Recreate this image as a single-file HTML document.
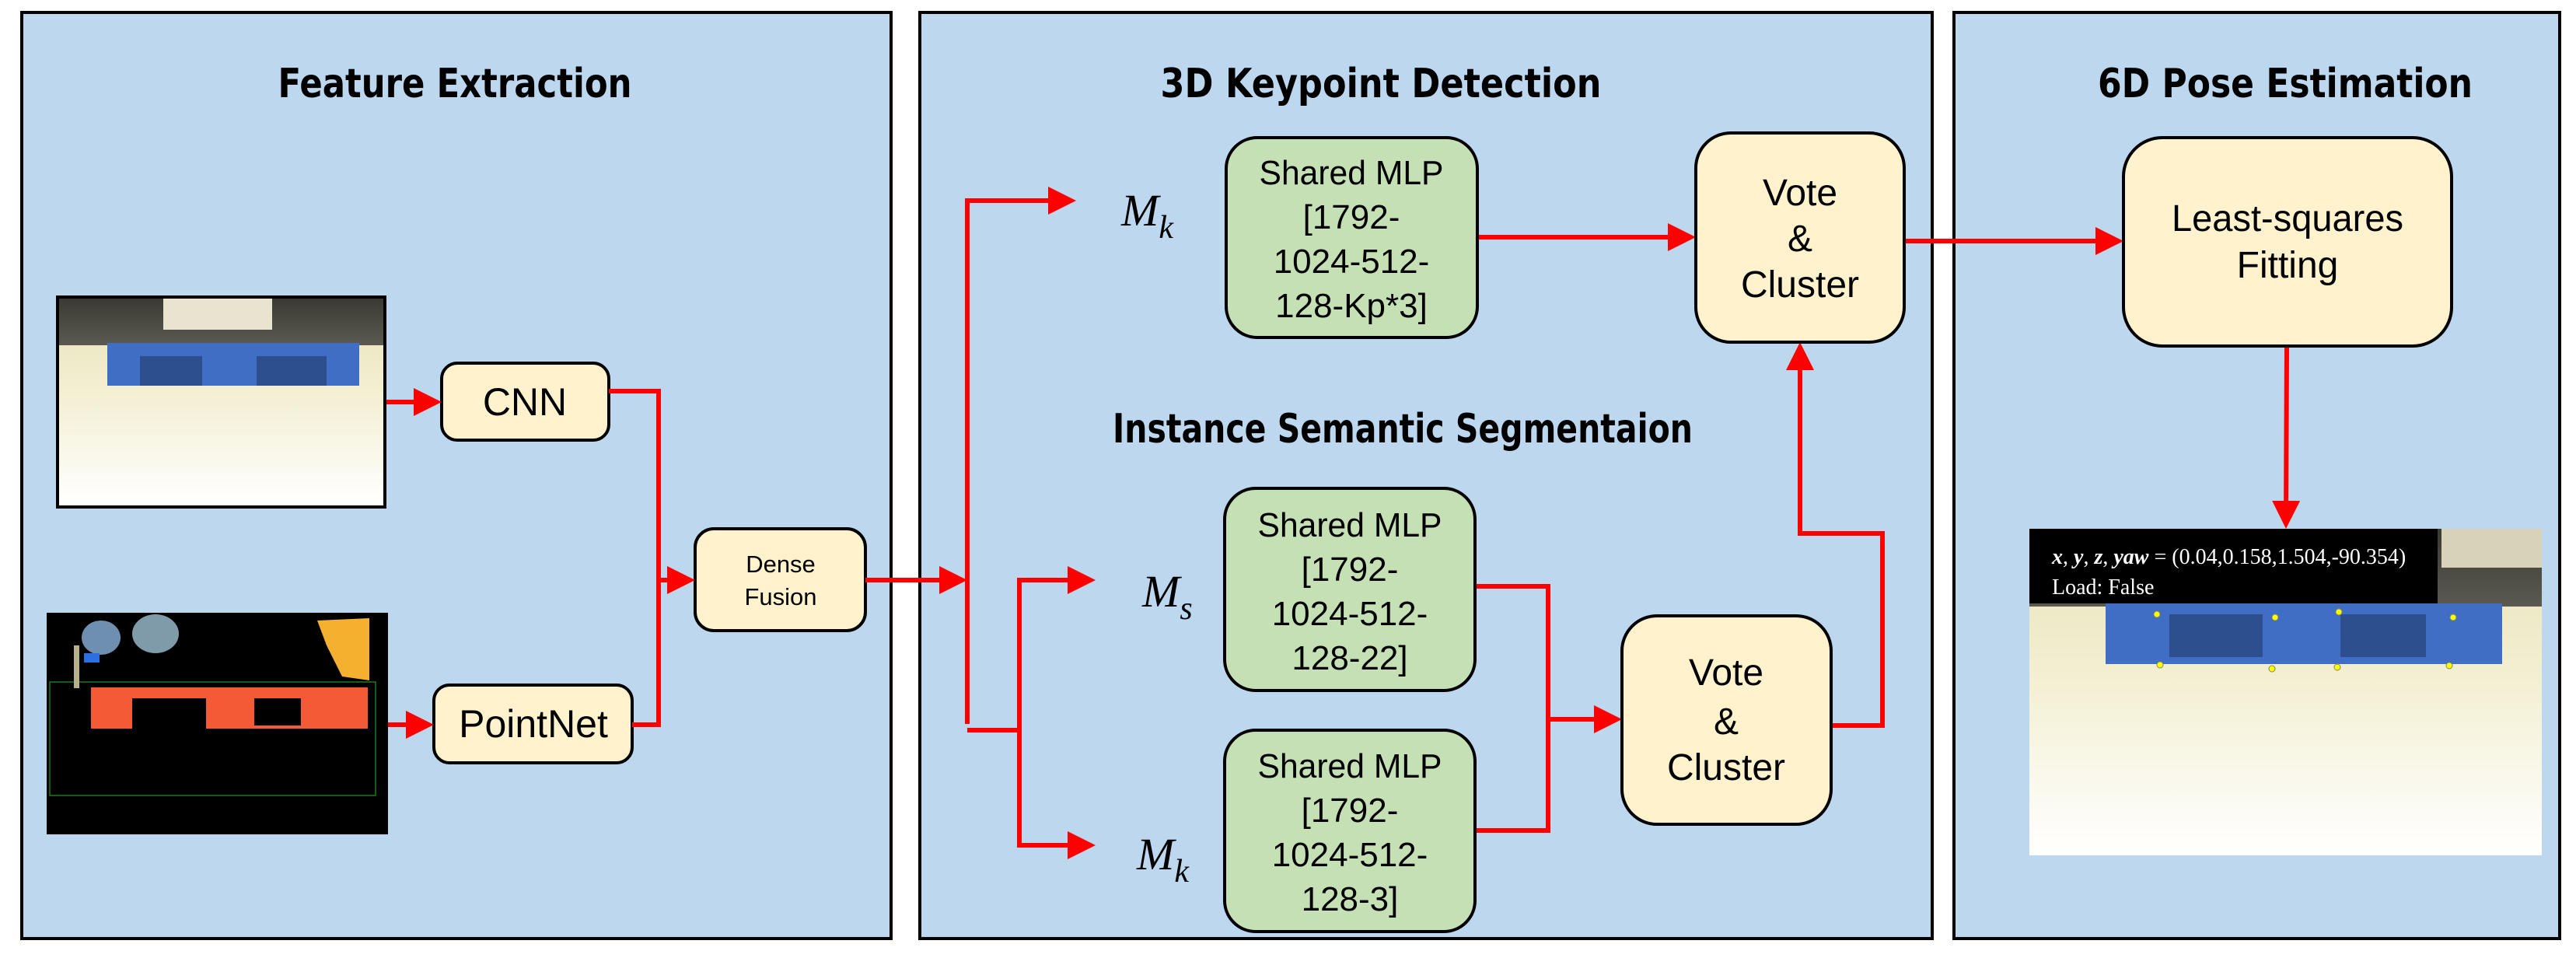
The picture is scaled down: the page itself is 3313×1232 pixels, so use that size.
<!DOCTYPE html>
<html><head><meta charset="utf-8"><style>
html,body{margin:0;padding:0;background:#fff;}
svg{display:block;}
.t{font-family:"DejaVu Sans","Liberation Sans",sans-serif;font-weight:bold;fill:#000;}
.b{font-family:"Liberation Sans","DejaVu Sans",sans-serif;fill:#000;}
.m{font-family:"Liberation Serif",serif;font-style:italic;fill:#000;}
</style></head><body>
<svg width="3313" height="1232" viewBox="0 0 3313 1232" xmlns="http://www.w3.org/2000/svg">
<defs>
<marker id="ah" markerWidth="6" markerHeight="6" refX="5" refY="3" orient="auto" markerUnits="strokeWidth">
<path d="M0,0 L6,3 L0,6 z" fill="#f00"/></marker>
<linearGradient id="floor" x1="0" y1="0" x2="0" y2="1">
<stop offset="0" stop-color="#e8e2b8"/><stop offset="0.45" stop-color="#f3efd2"/><stop offset="1" stop-color="#ffffff"/></linearGradient>
<linearGradient id="top" x1="0" y1="0" x2="0" y2="1">
<stop offset="0" stop-color="#3a3a34"/><stop offset="1" stop-color="#5a5a50"/></linearGradient>
</defs>
<!-- panels -->
<rect x="28" y="16" width="1118" height="1191" fill="#bdd7ee" stroke="#000" stroke-width="4"/>
<rect x="1183" y="16" width="1302" height="1191" fill="#bdd7ee" stroke="#000" stroke-width="4"/>
<rect x="2513" y="16" width="1779" height="1191" fill="#bdd7ee" stroke="#000" stroke-width="4"/>
<rect x="2513" y="16" width="779" height="1191" fill="#bdd7ee" stroke="#000" stroke-width="4"/>
<rect x="3294" y="0" width="19" height="1232" fill="#fff"/>

<!-- titles -->
<text class="t" x="585" y="125" font-size="52" text-anchor="middle" textLength="455" lengthAdjust="spacingAndGlyphs">Feature Extraction</text>
<text class="t" x="1776" y="125" font-size="52" text-anchor="middle" textLength="567" lengthAdjust="spacingAndGlyphs">3D Keypoint Detection</text>
<text class="t" x="1804" y="569" font-size="52" text-anchor="middle" textLength="746" lengthAdjust="spacingAndGlyphs">Instance Semantic Segmentaion</text>
<text class="t" x="2939" y="125" font-size="52" text-anchor="middle" textLength="482" lengthAdjust="spacingAndGlyphs">6D Pose Estimation</text>

<!-- RGB image -->
<rect x="72" y="380" width="425" height="274" fill="#000"/>
<rect x="76" y="384" width="417" height="266" fill="url(#floor)"/>
<rect x="76" y="384" width="417" height="60" fill="url(#top)"/>
<rect x="210" y="384" width="140" height="40" fill="#e9e4cf"/>
<rect x="138" y="441" width="324" height="55" fill="#3f6ec4"/>
<rect x="180" y="458" width="80" height="38" fill="#2d4f8e"/>
<rect x="330" y="458" width="90" height="38" fill="#2d4f8e"/>

<!-- depth image -->
<rect x="60" y="788" width="439" height="285" fill="#000"/>
<rect x="64" y="877" width="419" height="146" fill="none" stroke="#1a7a1a" stroke-width="1.5"/>
<rect x="117" y="884" width="356" height="53" fill="#f45a35"/>
<rect x="170" y="898" width="95" height="39" fill="#000"/>
<rect x="327" y="898" width="60" height="35" fill="#000"/>
<ellipse cx="130" cy="820" rx="25" ry="22" fill="#6f8fb0"/>
<ellipse cx="200" cy="815" rx="30" ry="25" fill="#7f9aa8"/>
<rect x="108" y="840" width="20" height="12" fill="#2e6fe0"/>
<rect x="95" y="830" width="7" height="55" fill="#b9b08a"/>
<path d="M408,798 L475,795 L475,875 L440,870 L420,830 z" fill="#f5b030"/>

<!-- CNN / PointNet / Dense fusion -->
<rect x="568" y="467" width="215" height="99" rx="20" fill="#fff2cc" stroke="#000" stroke-width="4"/>
<text class="b" x="675" y="534" font-size="50" text-anchor="middle">CNN</text>
<rect x="558" y="881" width="255" height="100" rx="20" fill="#fff2cc" stroke="#000" stroke-width="4"/>
<text class="b" x="686" y="948" font-size="50" text-anchor="middle">PointNet</text>
<rect x="894" y="680" width="219" height="131" rx="24" fill="#fff2cc" stroke="#000" stroke-width="4"/>
<text class="b" x="1004" y="736" font-size="31" text-anchor="middle">Dense</text>
<text class="b" x="1004" y="778" font-size="31" text-anchor="middle">Fusion</text>

<g stroke="#f00" stroke-width="6" fill="none">
<line x1="497" y1="517" x2="562" y2="517" marker-end="url(#ah)"/>
<line x1="499" y1="932" x2="552" y2="932" marker-end="url(#ah)"/>
<polyline points="783,503 847,503 847,932 813,932"/>
<line x1="847" y1="746" x2="888" y2="746" marker-end="url(#ah)"/>
<line x1="1113" y1="746" x2="1238" y2="746" marker-end="url(#ah)"/>
<polyline points="1244,931 1244,258 1378,258" marker-end="url(#ah)"/>
<polyline points="1244,939 1311,939"/>
<polyline points="1403,746 1311,746 1311,1087 1403,1087"/>
<line x1="1311" y1="746" x2="1403" y2="746" marker-end="url(#ah)"/>
<line x1="1311" y1="1087" x2="1403" y2="1087" marker-end="url(#ah)"/>
<line x1="1900" y1="305" x2="2175" y2="305" marker-end="url(#ah)"/>
<polyline points="1897,754 1991,754 1991,1068 1897,1068"/>
<line x1="1991" y1="925" x2="2080" y2="925" marker-end="url(#ah)"/>
<polyline points="2355,933 2421,933 2421,686 2315,686 2315,446" marker-end="url(#ah)"/>
<line x1="2449" y1="310" x2="2725" y2="310" marker-end="url(#ah)"/>
<line x1="2941" y1="445" x2="2940" y2="674" marker-end="url(#ah)"/>
</g>

<!-- M labels -->
<text class="m" x="1442" y="290" font-size="58">M<tspan font-size="42" dy="16">k</tspan></text>
<text class="m" x="1469" y="780" font-size="58">M<tspan font-size="42" dy="16">s</tspan></text>
<text class="m" x="1462" y="1118" font-size="58">M<tspan font-size="42" dy="16">k</tspan></text>

<!-- MLP boxes -->
<g>
<rect x="1577" y="177" width="323" height="257" rx="40" fill="#c5e0b4" stroke="#000" stroke-width="4"/>
<text class="b" x="1738" y="237" font-size="44" text-anchor="middle" textLength="237" lengthAdjust="spacingAndGlyphs">Shared MLP</text>
<text class="b" x="1738" y="294" font-size="44" text-anchor="middle">[1792-</text>
<text class="b" x="1738" y="351" font-size="44" text-anchor="middle">1024-512-</text>
<text class="b" x="1738" y="408" font-size="44" text-anchor="middle">128-Kp*3]</text>

<rect x="1575" y="628" width="322" height="260" rx="40" fill="#c5e0b4" stroke="#000" stroke-width="4"/>
<text class="b" x="1736" y="690" font-size="44" text-anchor="middle" textLength="237" lengthAdjust="spacingAndGlyphs">Shared MLP</text>
<text class="b" x="1736" y="747" font-size="44" text-anchor="middle">[1792-</text>
<text class="b" x="1736" y="804" font-size="44" text-anchor="middle">1024-512-</text>
<text class="b" x="1736" y="861" font-size="44" text-anchor="middle">128-22]</text>

<rect x="1575" y="939" width="322" height="259" rx="40" fill="#c5e0b4" stroke="#000" stroke-width="4"/>
<text class="b" x="1736" y="1000" font-size="44" text-anchor="middle" textLength="237" lengthAdjust="spacingAndGlyphs">Shared MLP</text>
<text class="b" x="1736" y="1057" font-size="44" text-anchor="middle">[1792-</text>
<text class="b" x="1736" y="1114" font-size="44" text-anchor="middle">1024-512-</text>
<text class="b" x="1736" y="1171" font-size="44" text-anchor="middle">128-3]</text>
</g>

<!-- Vote & Cluster -->
<rect x="2181" y="171" width="268" height="269" rx="45" fill="#fff2cc" stroke="#000" stroke-width="4"/>
<text class="b" x="2315" y="264" font-size="48" text-anchor="middle">Vote</text>
<text class="b" x="2315" y="323" font-size="48" text-anchor="middle">&amp;</text>
<text class="b" x="2315" y="382" font-size="48" text-anchor="middle">Cluster</text>
<rect x="2086" y="792" width="269" height="268" rx="45" fill="#fff2cc" stroke="#000" stroke-width="4"/>
<text class="b" x="2220" y="881" font-size="48" text-anchor="middle">Vote</text>
<text class="b" x="2220" y="944" font-size="48" text-anchor="middle">&amp;</text>
<text class="b" x="2220" y="1003" font-size="48" text-anchor="middle">Cluster</text>

<!-- Least squares -->
<rect x="2731" y="177" width="422" height="268" rx="50" fill="#fff2cc" stroke="#000" stroke-width="4"/>
<text class="b" x="2942" y="297" font-size="48" text-anchor="middle" textLength="298" lengthAdjust="spacingAndGlyphs">Least-squares</text>
<text class="b" x="2942" y="357" font-size="48" text-anchor="middle">Fitting</text>

<!-- result image -->
<rect x="2610" y="680" width="659" height="420" fill="url(#floor)"/>
<rect x="2610" y="680" width="659" height="100" fill="url(#top)"/>
<rect x="3140" y="680" width="129" height="50" fill="#d8d2b8"/>
<rect x="2708" y="776" width="510" height="78" fill="#3f6ec4"/>
<rect x="2790" y="790" width="120" height="55" fill="#2d4f8e"/>
<rect x="3010" y="790" width="110" height="55" fill="#2d4f8e"/>
<rect x="2610" y="680" width="525" height="96" fill="#000"/>
<text x="2639" y="725" font-size="28" fill="#fff" font-family="Liberation Serif,serif"><tspan font-style="italic" font-weight="bold">x</tspan>, <tspan font-style="italic" font-weight="bold">y</tspan>, <tspan font-style="italic" font-weight="bold">z</tspan>, <tspan font-style="italic" font-weight="bold">yaw</tspan> = (0.04,0.158,1.504,-90.354)</text>
<text x="2639" y="764" font-size="28" fill="#fff" font-family="Liberation Serif,serif">Load: False</text>
<g fill="#ff0" stroke="#885" stroke-width="1">
<circle cx="2774" cy="790" r="4"/><circle cx="2926" cy="794" r="4"/><circle cx="3008" cy="787" r="4"/><circle cx="3155" cy="794" r="4"/>
<circle cx="2778" cy="855" r="4"/><circle cx="2922" cy="860" r="4"/><circle cx="3006" cy="858" r="4"/><circle cx="3150" cy="856" r="4"/>
</g>
</svg>
</body></html>
